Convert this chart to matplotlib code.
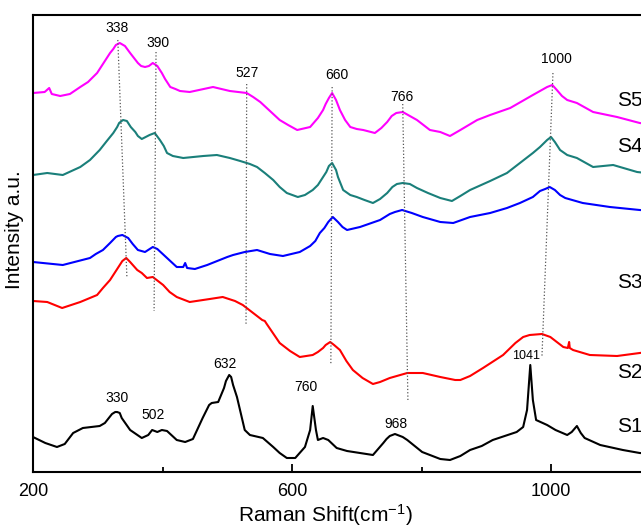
import matplotlib
matplotlib.use("Agg")
import matplotlib.pyplot as plt

plt.rcParams['font.family'] = ['Liberation Sans', 'DejaVu Sans']
plt.rcParams['mathtext.fontset'] = 'custom'
plt.rcParams['mathtext.rm'] = 'Liberation Sans'
plt.rcParams['mathtext.default'] = 'regular'

# Raman spectra (x in cm-1, y in arbitrary stacked units)
s5_x = [200, 218, 225, 229, 242, 257, 273, 285, 299, 309, 319, 324, 328, 334, 342, 350, 356, 362, 367, 373,
        379, 385, 392, 399, 404, 412, 420, 427, 442, 478, 504, 530, 540, 551, 566, 581, 594, 608, 628, 640,
        648, 652, 657, 662, 668, 674, 682, 690, 700, 710, 728, 738, 747, 754, 761, 771, 782, 793, 813, 829,
        844, 860, 886, 906, 937, 972, 994, 1002, 1009, 1017, 1025, 1040, 1065, 1102, 1137, 1160]
s5_y = [379, 380, 384, 378, 376, 378, 385, 390, 399, 409, 419, 423, 427, 429, 426, 419, 414, 409, 406, 405,
        406, 409, 406, 399, 393, 385, 383, 381, 380, 385, 381, 379, 375, 370, 361, 352, 347, 342, 345, 354,
        362, 368, 374, 379, 372, 362, 352, 345, 343, 342, 339, 344, 350, 356, 359, 360, 356, 352, 342, 340,
        336, 342, 352, 357, 364, 377, 385, 387, 382, 376, 372, 369, 360, 355, 349, 347]

s4_x = [200, 222, 246, 273, 288, 303, 314, 324, 330, 333, 339, 345, 351, 358, 362, 368, 380, 388, 396, 402,
        407, 416, 432, 463, 484, 504, 520, 535, 546, 558, 571, 581, 592, 609, 620, 632, 640, 648, 653, 657,
        662, 668, 671, 679, 690, 700, 712, 725, 736, 747, 755, 762, 771, 782, 793, 810, 829, 847, 860, 875,
        906, 932, 952, 972, 983, 994, 1000, 1006, 1014, 1025, 1040, 1065, 1096, 1133, 1160]
s4_y = [297, 299, 297, 305, 312, 322, 331, 339, 345, 349, 352, 351, 345, 340, 336, 333, 337, 339, 332, 326,
        319, 316, 314, 316, 317, 314, 311, 308, 305, 299, 292, 285, 279, 275, 277, 282, 287, 295, 300, 306,
        309, 302, 295, 282, 277, 275, 272, 269, 273, 279, 285, 288, 289, 288, 284, 279, 274, 271, 276, 282,
        291, 299, 309, 319, 325, 332, 335, 330, 322, 317, 314, 305, 307, 300, 298]

s3_x = [200, 246, 288, 297, 308, 319, 328, 331, 338, 347, 354, 362, 373, 385, 392, 397, 407, 422, 432, 435,
        438, 450, 469, 500, 509, 527, 546, 566, 586, 612, 628, 636, 643, 650, 656, 663, 671, 678, 685, 705,
        736, 751, 759, 770, 785, 802, 829, 849, 875, 906, 932, 952, 972, 983, 991, 998, 1006, 1014, 1022, 1049,
        1091, 1137, 1160]
s3_y = [210, 207, 214, 218, 222, 229, 235, 236, 237, 234, 228, 222, 220, 225, 223, 220, 214, 205, 205, 209,
        204, 203, 207, 215, 217, 220, 222, 218, 216, 220, 226, 231, 239, 244, 250, 255, 250, 245, 242, 245,
        252, 258, 260, 262, 259, 255, 250, 249, 255, 259, 264, 269, 275, 281, 283, 285, 282, 277, 274, 269,
        265, 262, 261]

s2_x = [200, 222, 245, 273, 299, 308, 319, 327, 334, 338, 344, 350, 361, 368, 376, 385, 393, 401, 411, 422,
        442, 473, 493, 512, 524, 540, 554, 558, 561, 581, 597, 612, 622, 632, 640, 648, 652, 659, 665, 674,
        684, 694, 709, 725, 736, 751, 778, 802, 829, 852, 860, 875, 895, 926, 945, 957, 967, 986, 999, 1009,
        1019, 1026, 1028, 1029, 1034, 1060, 1102, 1137, 1160]
s2_y = [171, 170, 164, 170, 177, 184, 192, 200, 207, 211, 214, 210, 202, 199, 194, 195, 191, 187, 180, 175,
        170, 173, 175, 171, 167, 159, 152, 151, 148, 129, 121, 115, 116, 117, 120, 124, 127, 130, 127, 122,
        111, 102, 94, 88, 90, 94, 99, 99, 95, 92, 92, 96, 104, 117, 129, 135, 137, 138, 135, 130,
        125, 124, 130, 124, 122, 117, 116, 119, 121]

s1_x = [200, 219, 237, 249, 262, 277, 303, 311, 322, 327, 330, 334, 337, 350, 368, 378, 384, 392, 399, 407,
        422, 435, 447, 462, 472, 476, 486, 495, 498, 503, 506, 509, 515, 527, 535, 555, 571, 581, 592, 605,
        620, 628, 632, 637, 640, 648, 656, 669, 685, 705, 725, 741, 746, 751, 759, 767, 771, 778, 801, 829,
        844, 860, 875, 893, 910, 947, 957, 963, 968, 972, 977, 994, 1007, 1025, 1032, 1040, 1046, 1052, 1076, 1111,
        1137, 1160]
s1_y = [35, 29, 25, 28, 39, 44, 46, 49, 58, 60, 60, 59, 54, 42, 34, 37, 42, 40, 42, 41,
        32, 30, 33, 54, 67, 69, 70, 84, 91, 97, 95, 87, 75, 42, 37, 34, 25, 19, 14, 14,
        25, 42, 66, 42, 32, 34, 32, 24, 21, 19, 17, 29, 33, 36, 38, 36, 35, 32, 20, 13,
        12, 16, 22, 26, 32, 40, 45, 62, 107, 72, 52, 47, 42, 37, 40, 46, 39, 34, 27, 22,
        19, 18]

series = [
    (s1_x, s1_y, 'black'),
    (s2_x, s2_y, '#ff0000'),
    (s3_x, s3_y, '#0000ff'),
    (s4_x, s4_y, '#1a7f7a'),
    (s5_x, s5_y, '#ff00ff'),
]

# guide lines: (x top, y top, x bottom, y bottom) and their labels
guide_lines = [
    (331, 432, 345, 195),
    (390, 420, 387, 161),
    (530, 388, 529, 147),
    (662, 385, 660, 107),
    (771, 368, 779, 72),
    (1003, 399, 986, 115),
]
guide_labels = ['338', '390', '527', '660', '766', '1000']
guide_label_x = [330, 393, 530, 670, 770, 1008]
guide_label_y = [444, 429, 399, 397, 375, 413]

s1_labels = ['330', '502', '632', '760', '968', '1041']
s1_label_x = [330, 385, 497, 622, 761, 961]
s1_label_y = [74, 57, 108, 85, 48, 116]

sample_names = ['S5', 'S4', 'S3', 'S2', 'S1']
sample_y = [372, 325, 189, 100, 45]

fig = plt.figure(figsize=(6.41, 5.26), dpi=100)
ax = fig.add_axes([33 / 641, 54 / 526, 647.5 / 641, 457 / 526])

for x, y, c in series:
    ax.plot(x, y, color=c, linewidth=1.5, solid_joinstyle='round')

for (x0, y0, x1, y1) in guide_lines:
    ax.plot([x0, x1], [y0, y1], linestyle=':', color='#555555', linewidth=0.9)

for lab, lx, ly in zip(guide_labels, guide_label_x, guide_label_y):
    ax.text(lx, ly, lab, ha='center', va='center', fontsize=10)

for lab, lx, ly in zip(s1_labels, s1_label_x, s1_label_y):
    fs = 9 if lab == '1041' else 10
    ax.text(lx, ly, lab, ha='center', va='center', fontsize=fs)

for name, sy in zip(sample_names, sample_y):
    ax.text(1102, sy, name, ha='left', va='center', fontsize=15)

ax.set_xlim(200, 1200)
ax.set_ylim(0, 457)
ax.set_xticks([200, 600, 1000])
ax.set_xticks([400, 800, 1200], minor=True)
ax.tick_params(axis='x', which='major', direction='in', length=6, width=1.3, labelsize=13, pad=8)
ax.tick_params(axis='x', which='minor', direction='in', length=3.5, width=1.3)
ax.set_yticks([])
for side in ['left', 'bottom', 'top', 'right']:
    ax.spines[side].set_linewidth(1.5)

fig.text(325 / 641, 1 - 515 / 526, 'Raman Shift(cm$^{-1}$)', ha='center', va='center', fontsize=15)
fig.text(15 / 641, 1 - 230 / 526, 'Intensity a.u.', ha='center', va='center', rotation=90, fontsize=15)

fig.savefig('out.png', dpi=100)
